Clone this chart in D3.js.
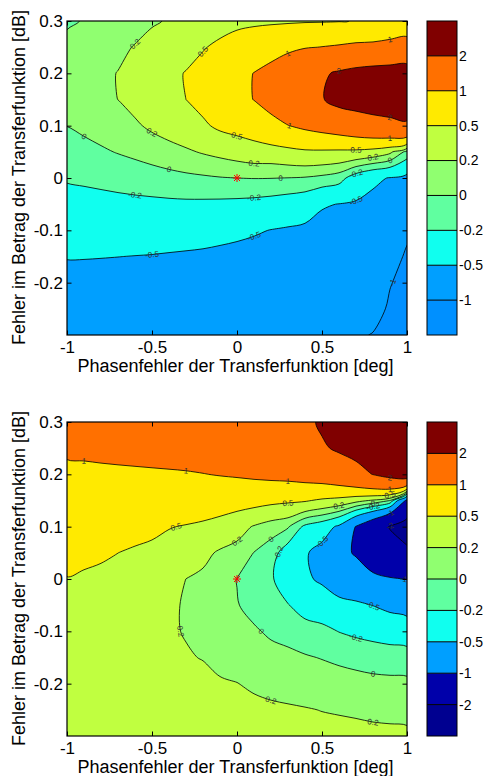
<!DOCTYPE html>
<html>
<head>
<meta charset="utf-8">
<script src="https://cdn.jsdelivr.net/npm/d3@7"></script>
<style>
  body { margin: 0; background: #fff; }
  svg { display: block; font-family: "Liberation Sans", Arial, Helvetica, sans-serif; }
</style>
</head>
<body>
<div class="chart"></div>
<script>
// grid positions (phase error in deg, magnitude error in dB)
var xValues = [-1, -0.9, -0.8, -0.7, -0.6, -0.5, -0.4, -0.3, -0.2, -0.1, 0, 0.1, 0.2, 0.3, 0.4, 0.5, 0.6, 0.7, 0.8, 0.9, 1];
var yValues = [0.3, 0.25, 0.2, 0.15, 0.1, 0.05, 0, -0.05, -0.1, -0.15, -0.2, -0.25, -0.3];

var xTicks = [-1, -0.5, 0, 0.5, 1];
var yTicks = [-0.2, -0.1, 0, 0.1, 0.2, 0.3];

var topLevels = [-1, -0.5, -0.2, 0, 0.2, 0.5, 1, 2];
var bottomLevels = [-2, -1, -0.5, -0.2, 0, 0.2, 0.5, 1, 2];

var topColors = ["#0090ff", "#009fff", "#10ffef", "#60ffa0", "#90ff70", "#c0ff40", "#ffea00", "#ff7000", "#800000"];
var bottomColors = ["#000090", "#0000aa", "#009fff", "#10ffef", "#60ffa0", "#90ff70", "#c0ff40", "#ffea00", "#ff7000", "#800000"];

// values, one row per yValue
var topValues = [
  [-0.03, 0.01, 0.04, 0.08, 0.13, 0.17, 0.22, 0.26, 0.32, 0.38, 0.43, 0.44, 0.45, 0.46, 0.47, 0.475, 0.485, 0.51, 0.6, 0.65, 0.7],
  [0.06, 0.08, 0.12, 0.16, 0.21, 0.29, 0.36, 0.42, 0.48, 0.56, 0.63, 0.72, 0.8, 0.88, 0.97, 1.01, 1.05, 1.1, 1.1, 1.15, 1.2],
  [0.11, 0.13, 0.165, 0.205, 0.27, 0.37, 0.45, 0.51, 0.6, 0.72, 0.86, 1.01, 1.15, 1.4, 1.65, 1.9, 2.1, 2.25, 2.35, 2.4, 2.45],
  [0.1, 0.12, 0.16, 0.201, 0.27, 0.37, 0.45, 0.5, 0.6, 0.72, 0.86, 1.01, 1.15, 1.45, 1.7, 1.95, 2.3, 2.45, 2.6, 2.7, 2.8],
  [0.003, 0.04, 0.08, 0.107, 0.17, 0.24, 0.3, 0.36, 0.453, 0.56, 0.62, 0.7, 0.88, 0.99, 1.1, 1.2, 1.31, 1.44, 1.57, 1.68, 1.82],
  [-0.089, -0.058, -0.025, 0.01, 0.043, 0.083, 0.126, 0.17, 0.219, 0.263, 0.31, 0.354, 0.36, 0.407, 0.45, 0.45, 0.437, 0.425, 0.37, 0.25, -0.06],
  [-0.18, -0.166, -0.148, -0.127, -0.105, -0.084, -0.062, -0.042, -0.027, -0.01, 0, 0.006, 0.004, -0.003, -0.015, -0.05, -0.11, -0.33, -0.46, -0.51, -0.577],
  [-0.282, -0.273, -0.266, -0.258, -0.251, -0.246, -0.24, -0.237, -0.24, -0.246, -0.254, -0.267, -0.29, -0.323, -0.364, -0.48, -0.505, -0.527, -0.555, -0.64, -0.77],
  [-0.385, -0.381, -0.38, -0.378, -0.378, -0.379, -0.385, -0.392, -0.404, -0.422, -0.446, -0.475, -0.506, -0.527, -0.55, -0.572, -0.596, -0.615, -0.646, -0.78, -0.96],
  [-0.488, -0.489, -0.493, -0.498, -0.504, -0.51, -0.52, -0.53, -0.54, -0.557, -0.572, -0.586, -0.604, -0.623, -0.645, -0.664, -0.687, -0.704, -0.737, -0.91, -1.03],
  [-0.586, -0.587, -0.593, -0.599, -0.603, -0.61, -0.62, -0.63, -0.64, -0.658, -0.671, -0.684, -0.703, -0.718, -0.74, -0.756, -0.778, -0.793, -0.828, -0.99, -1.06],
  [-0.683, -0.683, -0.69, -0.7, -0.701, -0.71, -0.72, -0.73, -0.74, -0.759, -0.77, -0.782, -0.801, -0.814, -0.835, -0.848, -0.869, -0.881, -0.919, -1.03, -1.08],
  [-0.78, -0.78, -0.79, -0.8, -0.8, -0.81, -0.82, -0.83, -0.84, -0.86, -0.87, -0.88, -0.9, -0.91, -0.93, -0.94, -0.96, -0.97, -1.01, -1.06, -1.1]
];

// values
var bottomValues = [
  [1.25, 1.27, 1.29, 1.31, 1.33, 1.36, 1.39, 1.42, 1.45, 1.48, 1.52, 1.56, 1.6, 1.66, 1.8, 2.12, 2.35, 2.5, 2.65, 2.8, 3.0],
  [1.05, 1.06, 1.08, 1.1, 1.12, 1.15, 1.18, 1.21, 1.24, 1.27, 1.3, 1.34, 1.38, 1.44, 1.52, 1.9, 2.12, 2.3, 2.45, 2.6, 2.85],
  [0.935, 0.937, 0.94, 0.943, 0.947, 0.95, 0.956, 0.967, 0.99, 1.02, 1.05, 1.09, 1.13, 1.16, 1.22, 1.3, 1.45, 1.7, 2.02, 2.3, 2.6],
  [0.823, 0.816, 0.807, 0.795, 0.781, 0.761, 0.735, 0.717, 0.704, 0.677, 0.642, 0.62, 0.578, 0.55, 0.53, 0.45, 0.39, 0.28, 0.17, 0.0, -1.1],
  [0.711, 0.694, 0.673, 0.648, 0.616, 0.572, 0.513, 0.482, 0.444, 0.384, 0.299, 0.181, 0.09, 0.02, -0.25, -0.36, -0.55, -1.02, -1.45, -2.05, -2.4],
  [0.6, 0.573, 0.54, 0.501, 0.46, 0.43, 0.39, 0.341, 0.256, 0.17, 0.119, -0.005, -0.1, -0.33, -0.47, -0.6, -0.85, -1.05, -1.4, -1.6, -1.84],
  [0.49, 0.46, 0.44, 0.41, 0.38, 0.35, 0.3, 0.199, 0.16, 0.09, -0.005, -0.1, -0.17, -0.35, -0.45, -0.55, -0.7, -0.727, -0.87, -0.96, -1.01],
  [0.42, 0.41, 0.38, 0.35, 0.32, 0.29, 0.245, 0.175, 0.125, 0.06, 0.01, -0.06, -0.15, -0.19, -0.3, -0.325, -0.41, -0.457, -0.505, -0.576, -0.63],
  [0.37, 0.36, 0.34, 0.31, 0.285, 0.255, 0.215, 0.193, 0.14, 0.09, 0.076, 0.023, -0.03, -0.064, -0.109, -0.149, -0.205, -0.243, -0.273, -0.303, -0.326],
  [0.345, 0.335, 0.315, 0.29, 0.265, 0.24, 0.21, 0.21, 0.195, 0.16, 0.139, 0.1, 0.061, 0.043, 0.016, -0.008, -0.037, -0.064, -0.087, -0.1, -0.109],
  [0.335, 0.325, 0.305, 0.285, 0.265, 0.245, 0.225, 0.235, 0.235, 0.215, 0.203, 0.178, 0.149, 0.133, 0.114, 0.095, 0.081, 0.068, 0.053, 0.047, 0.043],
  [0.33, 0.32, 0.305, 0.29, 0.275, 0.265, 0.255, 0.26, 0.26, 0.255, 0.25, 0.235, 0.23, 0.22, 0.21, 0.196, 0.187, 0.178, 0.165, 0.16, 0.155],
  [0.33, 0.32, 0.31, 0.3, 0.295, 0.29, 0.285, 0.285, 0.285, 0.285, 0.28, 0.275, 0.27, 0.265, 0.26, 0.255, 0.25, 0.245, 0.24, 0.235, 0.23]
];

// contour labels: level, rough spot (snapped onto the line)
var topLabels = [
  [0.2, -0.573, 0.264], [0.5, -0.249, 0.226], [1, 0.339, 0.245], [2, 0.594, 0.203],
  [1, 0.976, 0.257], [0.5, 0.741, 0.297], [0, -0.984, 0.095], [0.2, -0.504, 0.086],
  [0.5, 0.016, 0.073], [1, 0.31, 0.0985], [2, 0.947, 0.102], [1, 0.957, 0.081],
  [0.5, 0.682, 0.054], [0.2, 0.761, 0.041], [0, 0.908, 0.0445], [0.2, 0.114, 0.0286],
  [0, -0.376, 0.014], [0, 0.267, 0.001], [-0.2, 0.722, 0.003], [-0.2, -0.563, -0.032],
  [-0.2, 0.084, -0.035], [-0.5, 0.722, -0.032], [-0.5, 0.114, -0.105], [-0.5, -0.524, -0.146],
  [-1, 0.918, -0.191]
];
var bottomLabels = [
  [1, -0.975, 0.229], [1, -0.327, 0.205], [1, 0.31, 0.184], [2, 0.947, 0.178],
  [0.5, -0.376, 0.1], [0.5, 0.251, 0.145], [0.2, 0.624, 0.145], [0.2, -0.004, 0.083],
  [0, 0.212, 0.086], [-0.5, 0.516, 0.089], [-0.2, 0.231, 0.029], [-1, 0.878, 0.137],
  [-2, 0.957, 0.127], [-1, 0.947, 0], [0.2, -0.327, -0.095], [0, 0.153, -0.102],
  [-0.5, 0.839, -0.056], [-0.2, 0.682, -0.108], [0, 0.761, -0.175], [0.2, 0.173, -0.226],
  [0.2, 0.82, -0.267], [0.5, 0.9, 0.159], [0, 0.82, 0.149], [-0.2, 0.76, 0.142], [1, 0.96, 0.165]
];

var svgWidth = 485;
var svgHeight = 776;
var margin = { left: 67 };
var width = 340;
var height = 314;

var svg = d3.select(".chart")
  .append("svg")
  .attr("width", svgWidth)
  .attr("height", svgHeight);

// find where d3.contours puts grid value i (at i or at i + 0.5)
var probe = d3.contours().size([2, 1]).thresholds([0.5])([0, 1])[0];
var gridOffset = d3.min(probe.coordinates[0][0], p => p[0]) - 0.5;

// smooth outline through the contour vertices
var ringLine = d3.line().curve(d3.curveCatmullRomClosed.alpha(0.5));

function drawPanel(top, values, levels, colors, labels, id) {
  var x = d3.scaleLinear().domain([-1, 1]).range([0, width]);
  var y = d3.scaleLinear().domain([-0.3, 0.3]).range([height, 0]);
  var dx = xValues[1] - xValues[0];
  var dy = yValues[1] - yValues[0];

  function toPx(p) {
    return [x(xValues[0] + (p[0] - gridOffset) * dx), y(yValues[0] + (p[1] - gridOffset) * dy)];
  }
  function contourPath(c) {
    return c.coordinates.map(poly => poly.map(ring => ringLine(ring.slice(0, -1).map(toPx))).join("")).join("");
  }

  var contours = d3.contours()
    .size([xValues.length, yValues.length])
    .thresholds(levels)(values.flat());

  var chartGroup = svg.append("g")
    .attr("transform", `translate(${margin.left}, ${top})`);

  chartGroup.append("clipPath").attr("id", id)
    .append("rect").attr("width", width).attr("height", height);

  var plot = chartGroup.append("g").attr("clip-path", `url(#${id})`);

  plot.append("rect")
    .attr("width", width).attr("height", height)
    .attr("fill", colors[0]);

  plot.selectAll("path.fill")
    .data(contours)
    .enter()
    .append("path")
    .attr("class", "fill")
    .attr("d", contourPath)
    .attr("fill-rule", "evenodd")
    .attr("fill", (d, i) => colors[i + 1]);

  plot.selectAll("path.line")
    .data(contours)
    .enter()
    .append("path")
    .attr("class", "line")
    .attr("d", contourPath)
    .attr("fill", "none")
    .attr("stroke", "#000")
    .attr("stroke-width", 0.8);

  // contour labels
  labels.forEach(function (lab) {
    var c = contours.find(d => d.value === lab[0]);
    if (!c) return;
    var tx = x(lab[1]), ty = y(lab[2]);
    var best = null, bd = Infinity;
    c.coordinates.forEach(function (poly) {
      poly.forEach(function (ring) {
        for (var i = 0; i < ring.length - 1; i++) {
          var p = toPx(ring[i]);
          if (p[0] < 1 || p[0] > width - 1 || p[1] < 1 || p[1] > height - 1) continue;
          var dd = (p[0] - tx) * (p[0] - tx) + (p[1] - ty) * (p[1] - ty);
          if (dd < bd) { bd = dd; best = { ring: ring, i: i, p: p }; }
        }
      });
    });
    if (!best || bd > 900) return;
    var n = best.ring.length - 1;
    var a = toPx(best.ring[(best.i - 1 + n) % n]);
    var b = toPx(best.ring[(best.i + 1) % n]);
    var ang = Math.atan2(b[1] - a[1], b[0] - a[0]) * 180 / Math.PI;
    if (ang > 90) ang -= 180;
    if (ang < -90) ang += 180;
    plot.append("text")
      .attr("transform", `translate(${best.p[0]}, ${best.p[1]}) rotate(${ang})`)
      .attr("text-anchor", "middle")
      .attr("dy", "0.35em")
      .attr("font-size", "8px")
      .attr("fill", "#333")
      .text(String(lab[0]));
  });

  // red star at the origin
  chartGroup.append("path")
    .attr("transform", `translate(${x(0)}, ${y(0)})`)
    .attr("d", "M-4,0H4M0,-4V4M-3,-3L3,3M-3,3L3,-3")
    .attr("stroke", "#ff0000")
    .attr("stroke-width", 1)
    .attr("fill", "none");

  // axes, ticks inside like the original
  var fmt = d => String(d);
  var bottomAxis = d3.axisBottom(x).tickValues(xTicks).tickSize(-4.5).tickPadding(6).tickFormat(fmt);
  var leftAxis = d3.axisLeft(y).tickValues(yTicks).tickSize(-4.5).tickPadding(4).tickFormat(fmt);

  var gx = chartGroup.append("g")
    .attr("transform", `translate(0, ${height})`)
    .call(bottomAxis);
  var gy = chartGroup.append("g").call(leftAxis);
  chartGroup.append("g").call(d3.axisTop(x).tickValues(xTicks).tickSize(-4.5).tickFormat(""));
  chartGroup.append("g").attr("transform", `translate(${width}, 0)`)
    .call(d3.axisRight(y).tickValues(yTicks).tickSize(-4.5).tickFormat(""));

  chartGroup.selectAll(".domain").remove();
  chartGroup.selectAll(".tick line").attr("stroke", "#000");
  [gx, gy].forEach(g => g.selectAll("text")
    .attr("font-size", "17px")
    .attr("font-family", "Liberation Sans, Arial, sans-serif")
    .attr("fill", "#000"));

  chartGroup.append("rect")
    .attr("width", width).attr("height", height)
    .attr("fill", "none")
    .attr("stroke", "#000")
    .attr("stroke-width", 1.2);

  // axis labels
  chartGroup.append("text")
    .attr("transform", "rotate(-90)")
    .attr("x", -height / 2 + 0.5)
    .attr("y", -48)
    .attr("dy", "0.35em")
    .attr("text-anchor", "middle")
    .attr("font-size", "18px")
    .text("Fehler im Betrag der Transferfunktion [dB]");

  chartGroup.append("text")
    .attr("x", width / 2 - 1.5)
    .attr("y", height + 31)
    .attr("dy", "0.35em")
    .attr("text-anchor", "middle")
    .attr("font-size", "18px")
    .text("Phasenfehler der Transferfunktion [deg]");

  // colour bar
  var cb = svg.append("g").attr("transform", `translate(427, ${top})`);
  var cbScale = d3.scaleLinear().domain([0, colors.length]).range([height, 0]);
  cb.selectAll("rect.band")
    .data(colors)
    .enter()
    .append("rect")
    .attr("class", "band")
    .attr("x", 0)
    .attr("y", (d, i) => cbScale(i + 1))
    .attr("width", 30)
    .attr("height", cbScale(0) - cbScale(1))
    .attr("fill", d => d);
  cb.selectAll("line.sep")
    .data(levels)
    .enter()
    .append("line")
    .attr("class", "sep")
    .attr("x1", 0).attr("x2", 30)
    .attr("y1", (d, i) => cbScale(i + 1))
    .attr("y2", (d, i) => cbScale(i + 1))
    .attr("stroke", "#000")
    .attr("stroke-width", 1);
  cb.selectAll("text")
    .data(levels)
    .enter()
    .append("text")
    .attr("x", 32)
    .attr("y", (d, i) => cbScale(i + 1))
    .attr("dy", "0.35em")
    .attr("font-size", "14px")
    .text(d => String(d));
  cb.append("rect")
    .attr("width", 30).attr("height", height)
    .attr("fill", "none")
    .attr("stroke", "#000")
    .attr("stroke-width", 1);
}

drawPanel(21, topValues, topLevels, topColors, topLabels, "clipTop");
drawPanel(422, bottomValues, bottomLevels, bottomColors, bottomLabels, "clipBottom");
</script>
</body>
</html>
